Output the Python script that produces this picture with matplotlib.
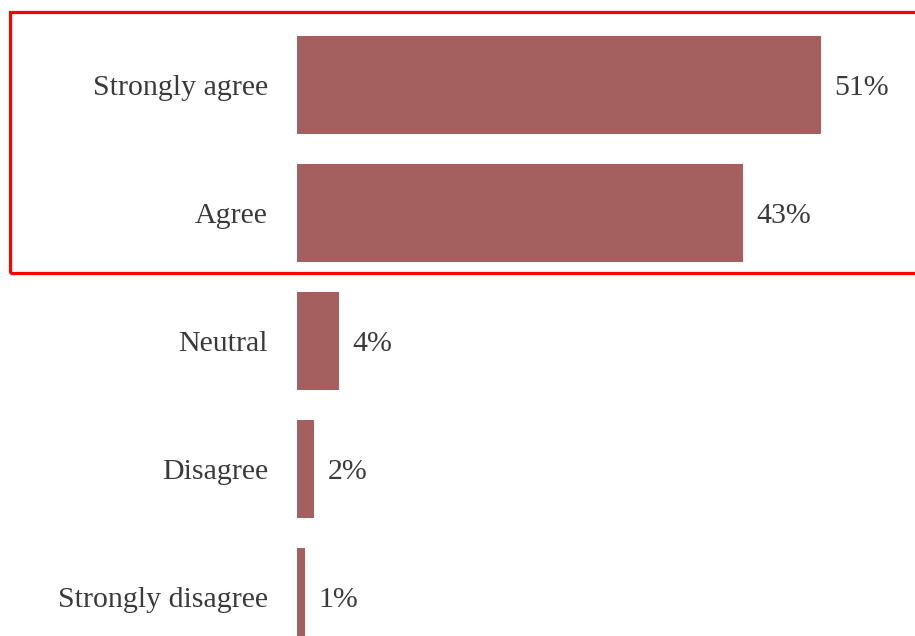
import matplotlib
matplotlib.use("Agg")
import matplotlib.pyplot as plt
from matplotlib.patches import Rectangle

categories = ["Strongly agree", "Agree", "Neutral", "Disagree", "Strongly disagree"]
values = [51.0, 43.4, 4.1, 1.7, 0.8]
labels = ["51%", "43%", "4%", "2%", "1%"]

W, H = 915, 636
fig = plt.figure(figsize=(W / 100, H / 100), dpi=100)
plt.rcParams['font.family'] = ['Liberation Serif', 'DejaVu Serif']

# axes placed so the x origin sits at pixel 297 and bars are 128px apart
ax = fig.add_axes([297 / W, 0, 1 - 297 / W, 1])
bar_color = "#a45f5f"
text_color = "#3a3a3a"
fs = 21.5

ypos = list(range(len(categories)))
ax.barh(ypos, values, height=0.76, color=bar_color)
ax.set_ylim((H - 85) / 128, -85 / 128)
ax.set_xlim(0, (W - 297) / 10.275)

for y, v, lab in zip(ypos, values, labels):
    ax.annotate(lab, (v, y), xytext=(13, 0), textcoords="offset pixels",
                va="center_baseline", ha="left", fontsize=fs, color=text_color)

ax.set_yticks(ypos)
ax.set_yticklabels(categories, fontsize=fs, color=text_color, va="center_baseline")
ax.tick_params(axis="y", length=0, pad=21)
ax.set_xticks([])
for s in ax.spines.values():
    s.set_visible(False)

# red highlight box around the top two rows
box = Rectangle((10 / W, 1 - 273 / H), (W + 20) / W, (273 - 12) / H,
                transform=fig.transFigure, fill=False, edgecolor="#ff0000",
                linewidth=2.3, clip_on=False)
fig.patches.append(box)

fig.savefig("out.png", dpi=100)
